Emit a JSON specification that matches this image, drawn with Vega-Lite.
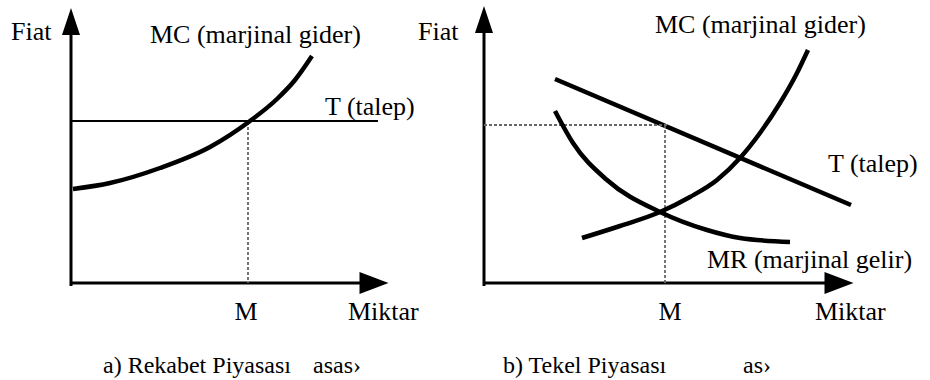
{
  "$schema": "https://vega.github.io/schema/vega-lite/v6.json",
  "autosize": {"type": "fit", "contains": "padding"},
  "padding": 0,
  "width": 930,
  "height": 380,
  "background": "white",
  "config": {"view": {"stroke": null}},
  "datasets": {
    "curves": [
      {"id": "MC_a", "x": 73, "y": 189},
      {"id": "MC_a", "x": 110, "y": 183},
      {"id": "MC_a", "x": 160, "y": 168},
      {"id": "MC_a", "x": 210, "y": 147},
      {"id": "MC_a", "x": 250, "y": 121},
      {"id": "MC_a", "x": 277, "y": 99},
      {"id": "MC_a", "x": 295, "y": 80},
      {"id": "MC_a", "x": 312, "y": 56},
      {"id": "MC_b", "x": 582, "y": 238},
      {"id": "MC_b", "x": 620, "y": 226},
      {"id": "MC_b", "x": 660, "y": 212},
      {"id": "MC_b", "x": 690, "y": 197},
      {"id": "MC_b", "x": 717, "y": 180},
      {"id": "MC_b", "x": 740, "y": 158},
      {"id": "MC_b", "x": 760, "y": 133},
      {"id": "MC_b", "x": 780, "y": 103},
      {"id": "MC_b", "x": 797, "y": 73},
      {"id": "MC_b", "x": 808, "y": 50},
      {"id": "MR_b", "x": 555, "y": 111},
      {"id": "MR_b", "x": 573, "y": 143},
      {"id": "MR_b", "x": 607, "y": 180},
      {"id": "MR_b", "x": 660, "y": 212},
      {"id": "MR_b", "x": 707, "y": 230},
      {"id": "MR_b", "x": 740, "y": 238},
      {"id": "MR_b", "x": 790, "y": 242}
    ],
    "segments": [
      {"kind": "axis", "x": 71, "y": 286, "x2": 71, "y2": 32},
      {"kind": "axis", "x": 70, "y": 283, "x2": 365, "y2": 283},
      {"kind": "axis", "x": 484, "y": 286, "x2": 484, "y2": 32},
      {"kind": "axis", "x": 483, "y": 283, "x2": 828, "y2": 283},
      {"kind": "thin", "x": 71, "y": 121, "x2": 378, "y2": 121},
      {"kind": "thick", "x": 555, "y": 79, "x2": 851, "y2": 205},
      {"kind": "dash", "x": 248, "y": 122, "x2": 248, "y2": 283},
      {"kind": "dash", "x": 484, "y": 125, "x2": 667, "y2": 125},
      {"kind": "dash", "x": 665, "y": 125, "x2": 665, "y2": 283}
    ],
    "arrows": [
      {"dir": "up", "x": 71, "y": 21.5},
      {"dir": "up", "x": 484, "y": 19.5},
      {"dir": "right", "x": 374, "y": 283},
      {"dir": "right", "x": 839, "y": 283}
    ],
    "labels": [
      {"kind": "big", "align": "left", "x": 11, "y": 40, "text": "Fiat"},
      {"kind": "big", "align": "left", "x": 150, "y": 43, "text": "MC (marjinal gider)"},
      {"kind": "big", "align": "left", "x": 325, "y": 115, "text": "T (talep)"},
      {"kind": "big", "align": "center", "x": 246, "y": 320, "text": "M"},
      {"kind": "big", "align": "left", "x": 348, "y": 320, "text": "Miktar"},
      {"kind": "big", "align": "left", "x": 418, "y": 40, "text": "Fiat"},
      {"kind": "big", "align": "left", "x": 655, "y": 33, "text": "MC (marjinal gider)"},
      {"kind": "big", "align": "left", "x": 828, "y": 172, "text": "T (talep)"},
      {"kind": "big", "align": "left", "x": 707, "y": 268, "text": "MR (marjinal gelir)"},
      {"kind": "big", "align": "center", "x": 670, "y": 320, "text": "M"},
      {"kind": "big", "align": "left", "x": 815, "y": 320, "text": "Miktar"},
      {"kind": "cap", "align": "left", "x": 103, "y": 373, "text": "a) Rekabet Piyasası"},
      {"kind": "cap", "align": "left", "x": 313, "y": 373, "text": "asas›"},
      {"kind": "cap", "align": "left", "x": 503, "y": 373, "text": "b) Tekel Piyasası"},
      {"kind": "cap", "align": "left", "x": 743, "y": 373, "text": "as›"}
    ]
  },
  "encoding": {
    "x": {"field": "x", "type": "quantitative", "axis": null, "scale": {"domain": [0, 930], "nice": false, "zero": false}},
    "y": {"field": "y", "type": "quantitative", "axis": null, "scale": {"domain": [0, 380], "nice": false, "zero": false, "reverse": true}}
  },
  "layer": [
    {
      "data": {"name": "segments"},
      "transform": [{"filter": "datum.kind === 'axis'"}],
      "mark": {"type": "rule", "color": "black", "strokeWidth": 3},
      "encoding": {"x2": {"field": "x2"}, "y2": {"field": "y2"}}
    },
    {
      "data": {"name": "segments"},
      "transform": [{"filter": "datum.kind === 'thin'"}],
      "mark": {"type": "rule", "color": "black", "strokeWidth": 2},
      "encoding": {"x2": {"field": "x2"}, "y2": {"field": "y2"}}
    },
    {
      "data": {"name": "segments"},
      "transform": [{"filter": "datum.kind === 'thick'"}],
      "mark": {"type": "rule", "color": "black", "strokeWidth": 4.5},
      "encoding": {"x2": {"field": "x2"}, "y2": {"field": "y2"}}
    },
    {
      "data": {"name": "segments"},
      "transform": [{"filter": "datum.kind === 'dash'"}],
      "mark": {"type": "rule", "color": "#666666", "strokeWidth": 1.8, "strokeDash": [3, 2]},
      "encoding": {"x2": {"field": "x2"}, "y2": {"field": "y2"}}
    },
    {
      "data": {"name": "curves"},
      "mark": {"type": "line", "color": "black", "strokeWidth": 4.5, "interpolate": "monotone"},
      "encoding": {"detail": {"field": "id"}, "order": {"field": "x", "type": "quantitative"}}
    },
    {
      "data": {"name": "arrows"},
      "transform": [{"filter": "datum.dir === 'up'"}],
      "mark": {"type": "point", "filled": true, "color": "black", "opacity": 1, "strokeWidth": 0, "size": 729, "shape": "M0,-1L0.667,1L-0.667,1Z"}
    },
    {
      "data": {"name": "arrows"},
      "transform": [{"filter": "datum.dir === 'right'"}],
      "mark": {"type": "point", "filled": true, "color": "black", "opacity": 1, "strokeWidth": 0, "size": 841, "shape": "M1,0L-1,-0.76L-1,0.76Z"}
    },
    {
      "data": {"name": "labels"},
      "transform": [{"filter": "datum.kind === 'big' && datum.align === 'left'"}],
      "mark": {"type": "text", "font": "Liberation Serif, Times New Roman, serif", "fontSize": 26, "align": "left", "baseline": "alphabetic", "color": "black"},
      "encoding": {"text": {"field": "text"}}
    },
    {
      "data": {"name": "labels"},
      "transform": [{"filter": "datum.kind === 'big' && datum.align === 'center'"}],
      "mark": {"type": "text", "font": "Liberation Serif, Times New Roman, serif", "fontSize": 26, "align": "center", "baseline": "alphabetic", "color": "black"},
      "encoding": {"text": {"field": "text"}}
    },
    {
      "data": {"name": "labels"},
      "transform": [{"filter": "datum.kind === 'cap'"}],
      "mark": {"type": "text", "font": "Liberation Serif, Times New Roman, serif", "fontSize": 24, "align": "left", "baseline": "alphabetic", "color": "black"},
      "encoding": {"text": {"field": "text"}}
    }
  ]
}
